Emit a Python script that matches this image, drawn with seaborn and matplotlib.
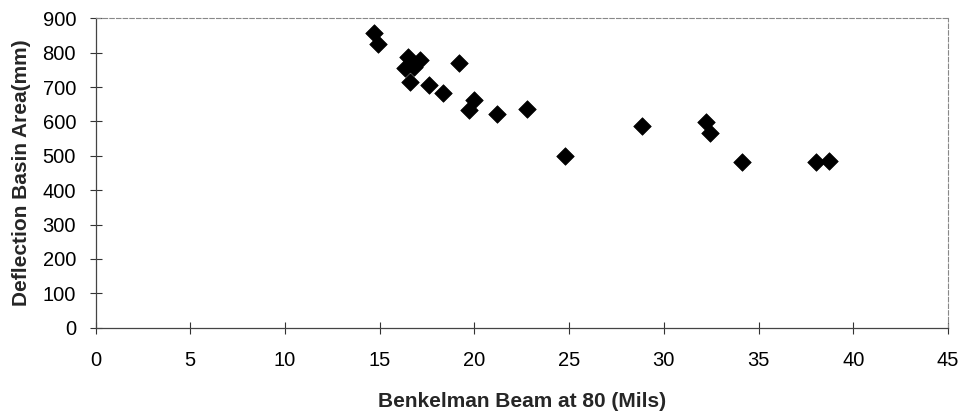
import matplotlib
matplotlib.use("Agg")
import matplotlib.pyplot as plt
import seaborn as sns
import pandas as pd

benkelman = [14.68, 14.91, 16.47, 17.14, 16.35, 16.79, 16.61, 17.58, 18.32, 19.18,
             19.99, 19.69, 21.2, 22.77, 24.79, 28.87, 32.23, 32.44, 34.14, 38.03, 38.73]
basin_area = [858, 824, 788, 779, 755, 759, 715, 706, 684, 769,
              662, 633, 621, 635, 499, 587, 599, 565, 483, 481, 485]

df = pd.DataFrame({"x": benkelman, "y": basin_area})

sns.set_style("white")
plt.rcParams["font.family"] = ["Liberation Sans", "DejaVu Sans"]

fig = plt.figure(figsize=(9.65, 4.16), dpi=100)
ax = fig.add_axes([95.5/965, (416-327.7)/416, (948-95.5)/965, (327.7-18.3)/416])

sns.scatterplot(data=df, x="x", y="y", ax=ax, marker="D", s=80,
                color="black", edgecolor="black", linewidth=0.5, zorder=3,
                clip_on=False)

ax.set_xlim(0, 45)
ax.set_ylim(0, 900)
ax.set_xticks(range(0, 46, 5))
ax.set_yticks(range(0, 901, 100))
ax.tick_params(axis="both", which="major", direction="inout", length=8, width=0.8,
               colors="#333333", labelcolor="black", labelsize=14.5,
               bottom=True, left=True)
ax.tick_params(axis="x", pad=12.5)
ax.tick_params(axis="y", pad=10)
for side in ["left", "bottom"]:
    ax.spines[side].set_color("#444444")
    ax.spines[side].set_linewidth(0.9)
for side in ["top", "right"]:
    ax.spines[side].set_visible(True)
    ax.spines[side].set_color("#888888")
    ax.spines[side].set_linestyle((0, (4, 2)))
    ax.spines[side].set_linewidth(0.8)

ax.set_xlabel("Benkelman Beam at 80 (Mils)", fontsize=15, fontweight="bold", labelpad=16)
ax.set_ylabel("Deflection Basin Area(mm)", fontsize=15, fontweight="bold", labelpad=8)
ax.grid(False)

fig.savefig("out.png", dpi=100)
